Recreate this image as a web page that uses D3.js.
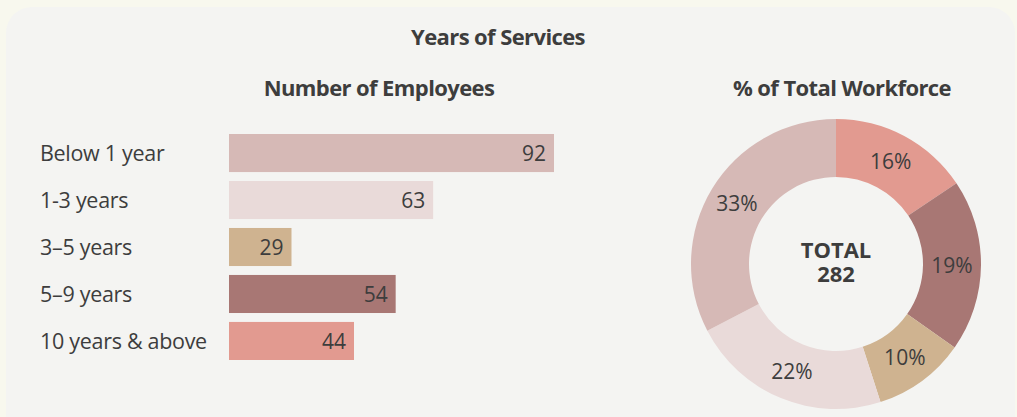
<!DOCTYPE html>
<html>
<head>
<meta charset="utf-8">
<script src="https://cdn.jsdelivr.net/npm/d3@7"></script>
<style>
  html, body { margin: 0; padding: 0; background: #f8f8ee; }
  svg { display: block; }
  text { font-family: "Open Sans", "Noto Sans", sans-serif; fill: #3d3d3d; }
</style>
</head>
<body>
<svg id="chart" width="1017" height="417"></svg>
<script>
const categories = ["Below 1 year", "1-3 years", "3\u20135 years", "5\u20139 years", "10 years & above"];
const employees = [92, 63, 29, 54, 44];
const percentLabels = ["33%", "22%", "10%", "19%", "16%"];
const colors = ["#d6b9b6", "#e9dad9", "#cfb390", "#a87774", "#e29a90"];
const total = 282;

const svg = d3.select("#chart");

// panel
svg.append("rect").attr("x", 6).attr("y", 7).attr("width", 1009).attr("height", 440)
  .attr("rx", 26).attr("fill", "#f4f4f2");

const titleSize = 22;
svg.append("text").attr("x", 498).attr("y", 45).attr("text-anchor", "middle")
  .attr("font-size", titleSize).attr("font-weight", 700).attr("letter-spacing", -0.6).text("Years of Services");

svg.append("text").attr("x", 379).attr("y", 96).attr("text-anchor", "middle")
  .attr("font-size", titleSize).attr("font-weight", 700).attr("letter-spacing", -0.6).text("Number of Employees");

svg.append("text").attr("x", 842).attr("y", 96).attr("text-anchor", "middle")
  .attr("font-size", titleSize).attr("font-weight", 700).attr("letter-spacing", -0.6).text("% of Total Workforce");

// bars
const y = d3.scaleBand().domain(categories).range([134, 360]).paddingInner(0.19).paddingOuter(0);
const x = d3.scaleLinear().domain([14, 92]).range([229, 554]);

const rows = categories.map((c, i) => ({ c, v: employees[i], col: colors[i] }));

svg.selectAll("rect.bar").data(rows).join("rect").attr("class", "bar")
  .attr("x", x(14)).attr("y", d => y(d.c))
  .attr("width", d => x(d.v) - x(14)).attr("height", y.bandwidth())
  .attr("fill", d => d.col);

svg.selectAll("text.val").data(rows).join("text").attr("class", "val")
  .attr("x", d => x(d.v) - 8).attr("y", d => y(d.c) + y.bandwidth() / 2)
  .attr("dy", "0.36em").attr("text-anchor", "end").attr("font-size", 21)
  .text(d => d.v);

svg.selectAll("text.cat").data(rows).join("text").attr("class", "cat")
  .attr("x", 40).attr("y", d => y(d.c) + y.bandwidth() / 2)
  .attr("dy", "0.36em").attr("font-size", 21.5).attr("letter-spacing", -0.3)
  .text(d => d.c);

// donut
const donutData = rows.map((r, i) => ({ ...r, p: percentLabels[i] })).reverse();
const pie = d3.pie().value(d => d.v).sort(null);
const arc = d3.arc().innerRadius(87).outerRadius(145);
const g = svg.append("g").attr("transform", "translate(836,264)");
const arcs = pie(donutData);
g.selectAll("path").data(arcs).join("path").attr("d", arc).attr("fill", d => d.data.col);
g.selectAll("text.pct").data(arcs).join("text").attr("class", "pct")
  .attr("transform", d => `translate(${arc.centroid(d)})`)
  .attr("dy", "0.36em").attr("text-anchor", "middle").attr("font-size", 21)
  .text(d => d.data.p);

const center = g.append("text").attr("text-anchor", "middle").attr("font-size", 22)
  .attr("font-weight", 700);
center.append("tspan").attr("x", 0).attr("y", -6).text("TOTAL");
center.append("tspan").attr("x", 0).attr("y", 18).text(total);
</script>
</body>
</html>
